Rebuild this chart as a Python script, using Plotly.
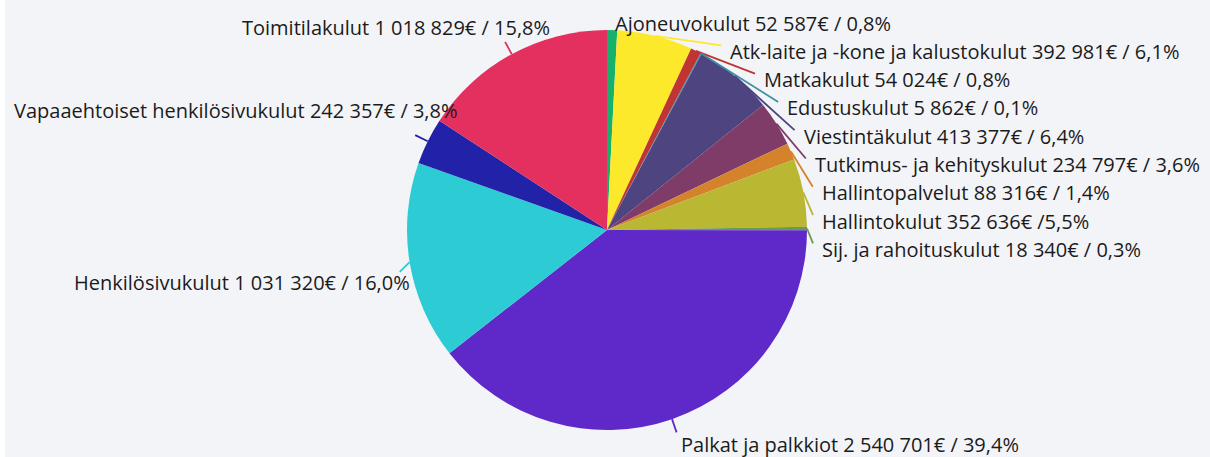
import math
import plotly.graph_objects as go

# ---- data ----
categories = [
    "Ajoneuvokulut", "Atk-laite ja -kone ja kalustokulut", "Matkakulut",
    "Edustuskulut", "Viestintäkulut", "Tutkimus- ja kehityskulut",
    "Hallintopalvelut", "Hallintokulut", "Sij. ja rahoituskulut",
    "Palkat ja palkkiot", "Henkilösivukulut", "Vapaaehtoiset henkilösivukulut",
    "Toimitilakulut",
]
values = [52587, 392981, 54024, 5862, 413377, 234797, 88316, 352636, 18340,
          2540701, 1031320, 242357, 1018829]
pct_labels = ["0,8%", "6,1%", "0,8%", "0,1%", "6,4%", "3,6%", "1,4%", "5,5%",
              "0,3%", "39,4%", "16,0%", "3,8%", "15,8%"]
separators = [" / "] * 7 + [" /"] + [" / "] * 5
colors = ["#17b16b", "#fde92c", "#c13434", "#3d8ea5", "#4d4480", "#7f3c69",
          "#d4832b", "#bab733", "#6b9a4d", "#5f29c9", "#2dcbd3", "#2222a8",
          "#e3305f"]


def fmt(v):
    return f"{v:,}".replace(",", " ")


texts = [f"{c} {fmt(v)}€{s}{p}" for c, v, s, p in
         zip(categories, values, separators, pct_labels)]

# ---- layout geometry (pixels) ----
W, H = 1210, 457
CX, CY, R0 = 607, 230, 200
R_LAB = 216          # label circle
R_LINE = 214         # connector end radius (left/bottom labels)
Y_MIN = 23           # topmost label centre
SPACING = 28.3       # vertical label spacing on the right side
X_MAX = CX + 213
# extra nudges for the labels not on the stacked right column
left_shift = {9: (2, 10.5), 10: (18, 17.5), 11: (47, -24), 12: (48, -13)}
line_shift = {10: (4, 7.5)}


def X(px):
    return px / W


def Y(py):
    return 1 - py / H


total = sum(values)
ends, acc = [], 0.0
for v in values:
    acc += v / total * 360
    ends.append(acc)
mids = [e - v / total * 180 for e, v in zip(ends, values)]

fig = go.Figure(go.Pie(
    labels=categories,
    values=values,
    textinfo="none",
    sort=False,
    direction="clockwise",
    rotation=0,
    marker=dict(colors=colors, line=dict(width=0)),
    domain=dict(x=[X(CX - R0), X(CX + R0)], y=[Y(CY + R0), Y(CY - R0)]),
    showlegend=False,
    hoverinfo="label+value+percent",
))

font = dict(family="Open Sans", size=20, color="#1b1b1b")
annotations, shapes = [], []
prev_y = None
for i, (t, th, col) in enumerate(zip(texts, mids, colors)):
    a = math.radians(th)
    sx, sy = CX + R0 * math.sin(a), CY - R0 * math.cos(a)
    xn, yn = CX + R_LAB * math.sin(a), CY - R_LAB * math.cos(a)
    if th < 90:
        y = max(yn, Y_MIN if prev_y is None else prev_y + SPACING)
        moved = prev_y is not None and y > yn + 0.5
        if moved:
            x = CX + math.sqrt(max(R_LAB ** 2 - (y - CY) ** 2, 0))
        else:
            x = xn
        x = min(x, X_MAX)
        prev_y = y
        annotations.append(dict(x=X(x), y=Y(y), xref="paper", yref="paper",
                                text=t, showarrow=False, xanchor="left",
                                yanchor="middle", font=font))
        ex, ey = x - 7, y - 6
    else:
        dx, dy = left_shift[i]
        side = "left" if th < 180 else "right"
        annotations.append(dict(x=X(xn + dx), y=Y(yn + dy), xref="paper",
                                yref="paper", text=t, showarrow=False,
                                xanchor=side, yanchor="middle", font=font))
        ex, ey = CX + R_LINE * math.sin(a), CY - R_LINE * math.cos(a)
        lx, ly = line_shift.get(i, (0, 0))
        ex, ey = ex + lx, ey + ly
    if i == 0:
        continue
    shapes.append(dict(type="line", xref="paper", yref="paper",
                       x0=X(sx), y0=Y(sy), x1=X(ex), y1=Y(ey),
                       line=dict(color=col, width=1.8)))

shapes.append(dict(type="rect", xref="paper", yref="paper", x0=0, x1=X(5),
                   y0=0, y1=1, fillcolor="#ffffff", line=dict(width=0),
                   layer="below"))

fig.update_layout(
    width=W, height=H,
    margin=dict(l=0, r=0, t=0, b=0),
    paper_bgcolor="#f3f4f8",
    plot_bgcolor="#f3f4f8",
    annotations=annotations,
    shapes=shapes,
)
fig.write_html(
    "out.html",
    config={"displayModeBar": False},
    post_script="document.body.style.margin='0';document.body.style.overflow='hidden';",
)
